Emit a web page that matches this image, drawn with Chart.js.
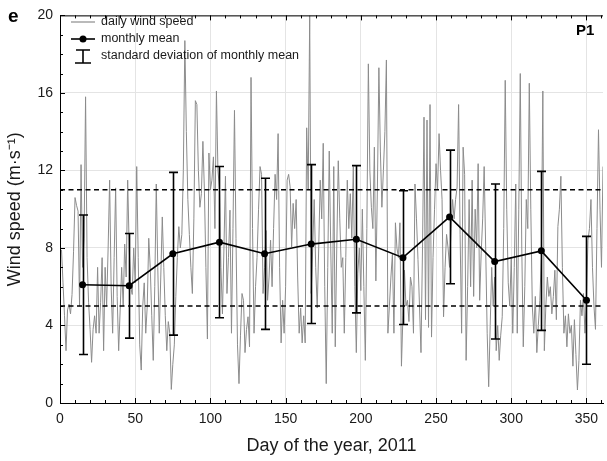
<!DOCTYPE html>
<html>
<head>
<meta charset="utf-8">
<script src="https://cdn.jsdelivr.net/npm/chart.js@4.4.1/dist/chart.umd.min.js"></script>
<style>
  html, body { margin: 0; padding: 0; background: #fff; }
  #wrap { position: relative; width: 607px; height: 461px; }
</style>
</head>
<body>
<div id="wrap"><canvas id="windChart" width="607" height="461"></canvas></div>
<script>
// Daily mean wind speed at P1, 2011 (m/s), starting on day 1
const dailySpeed = [
  7.9, 6.2, 4.5, 2.7, 4.8, 5.1, 4.6, 5.6, 7.8, 10.6,
  10.2, 9.9, 5.0, 12.3, 7.0, 8.5, 15.8, 7.5, 5.2, 3.8,
  2.1, 3.8, 4.5, 3.6, 7.0, 3.6, 5.2, 7.5, 2.7, 7.0,
  5.0, 8.0, 11.5, 6.0, 3.6, 7.5, 11.1, 5.5, 2.7, 4.8,
  7.0, 5.0, 8.2, 6.5, 11.5, 8.0, 6.0, 5.6, 8.0, 6.2,
  12.2, 7.5, 3.0, 1.7, 5.0, 6.2, 3.6, 5.0, 8.5, 7.0,
  4.5, 2.2, 6.0, 11.3, 7.0, 3.6, 6.5, 9.6, 7.0, 4.5,
  2.7, 4.2, 3.6, 0.7, 2.0, 3.0, 5.5, 7.5, 9.1, 8.0,
  8.7, 12.0, 18.7, 14.0, 10.5, 8.7, 7.0, 5.65, 9.5, 15.6,
  15.4, 12.0, 10.1, 10.8, 13.5, 11.0, 7.0, 3.3, 12.9, 11.0,
  11.5, 12.7, 9.0, 16.1, 12.0, 11.1, 7.0, 4.6, 8.0, 11.7,
  5.65, 7.5, 9.95, 3.6, 9.0, 15.1, 8.5, 3.0, 1.0, 3.5,
  5.65, 5.3, 2.6, 3.8, 4.45, 2.9, 16.8, 9.0, 3.6, 6.0,
  7.5, 10.0, 12.2, 11.8, 5.65, 7.0, 8.9, 5.3, 6.5, 8.4,
  6.0, 9.0, 11.8, 10.5, 13.9, 7.0, 3.1, 5.3, 3.6, 6.0,
  11.5, 11.8, 11.15, 8.05, 10.3, 9.0, 10.5, 6.5, 3.6, 4.9,
  3.1, 4.5, 3.1, 14.2, 11.0, 20.0, 5.65, 8.0, 10.5, 7.0,
  4.9, 8.0, 11.5, 9.5, 13.4, 6.0, 1.0, 7.0, 13.0, 8.0,
  3.6, 12.2, 2.9, 8.0, 12.5, 9.5, 7.0, 7.5, 3.6, 7.5,
  11.5, 9.0, 10.8, 8.5, 12.2, 6.0, 2.6, 6.7, 8.0, 5.8,
  10.0, 6.0, 2.2, 9.0, 17.5, 12.0, 10.1, 9.0, 13.2, 6.3,
  11.0, 17.3, 13.0, 10.1, 12.0, 14.0, 17.7, 3.6, 5.0, 6.5,
  7.7, 3.6, 9.3, 8.0, 7.5, 9.3, 1.9, 4.5, 6.85, 5.0,
  5.3, 4.2, 6.5, 6.0, 3.6, 11.3, 9.5, 7.4, 5.0, 2.6,
  8.0, 14.75, 4.3, 14.6, 3.9, 15.4, 3.4, 7.5, 10.0, 12.35,
  11.0, 13.9, 12.0, 10.5, 4.45, 7.0, 8.7, 8.0, 7.0, 9.0,
  10.5, 9.5, 10.5, 11.15, 15.4, 8.7, 3.6, 13.2, 11.8, 2.2,
  6.0, 10.5, 6.0, 11.5, 5.5, 10.0, 8.0, 12.35, 5.3, 7.7,
  9.5, 12.2, 8.0, 3.6, 0.84, 4.0, 7.0, 5.0, 6.5, 2.7,
  4.0, 2.2, 3.5, 4.45, 9.0, 16.65, 10.0, 6.2, 5.0, 7.5,
  3.6, 7.0, 11.3, 3.6, 10.0, 17.0, 8.0, 2.9, 6.0, 10.5,
  9.0, 16.5, 10.0, 5.0, 3.6, 5.5, 2.6, 4.0, 5.3, 7.5,
  16.1, 2.7, 5.0, 6.5, 5.5, 6.0, 4.6, 5.5, 6.85, 4.3,
  9.1, 10.0, 11.7, 7.0, 3.6, 4.5, 2.9, 4.6, 3.6, 4.0,
  1.9, 4.3, 2.5, 0.67, 2.2, 5.3, 4.5, 5.65, 3.6, 5.5,
  8.4, 9.0, 10.5, 7.0, 5.0, 3.8, 9.0, 14.1, 10.0, 7.0,
  12.2, 14.0
];

// Monthly means and their standard deviations, placed mid-month
const monthDays = [15, 46, 75, 106, 136, 167, 197, 228, 259, 289, 320, 350];
const monthMean = [6.1, 6.05, 7.7, 8.3, 7.7, 8.2, 8.45, 7.5, 9.6, 7.3, 7.85, 5.3];
const monthStd = [3.6, 2.7, 4.2, 3.9, 3.9, 4.1, 3.8, 3.45, 3.45, 4.0, 4.1, 3.3];

const thresholds = [11, 5];
const xTicks = [0, 50, 100, 150, 200, 250, 300, 350];
const yTicks = [0, 4, 8, 12, 16, 20];
const xMax = 361;

const FONT = 'Liberation Sans, Arial, sans-serif';
const TEXT = '#1a1a1a';

// error bars, frame, inward ticks and the legend box
const extras = {
  id: 'extras',
  afterDatasetsDraw(chart) {
    const { ctx, scales: { x, y } } = chart;
    ctx.save();
    ctx.strokeStyle = '#000';
    ctx.lineWidth = 1.6;
    monthDays.forEach((d, i) => {
      const px = Math.round(x.getPixelForValue(d)) + 0.5;
      const top = y.getPixelForValue(monthMean[i] + monthStd[i]);
      const bot = y.getPixelForValue(monthMean[i] - monthStd[i]);
      ctx.beginPath();
      ctx.moveTo(px, top); ctx.lineTo(px, bot);
      ctx.moveTo(px - 4.5, top); ctx.lineTo(px + 4.5, top);
      ctx.moveTo(px - 4.5, bot); ctx.lineTo(px + 4.5, bot);
      ctx.stroke();
    });
    ctx.restore();
  },
  afterDraw(chart) {
    const { ctx, chartArea: a, scales: { x, y } } = chart;
    ctx.save();
    ctx.strokeStyle = '#000';
    ctx.lineWidth = 1;
    // top frame
    ctx.beginPath();
    ctx.moveTo(a.left, a.top + 0.5); ctx.lineTo(a.right, a.top + 0.5);
    ctx.stroke();
    // minor ticks every 10 days, top and bottom
    ctx.beginPath();
    for (let d = 0; d <= xMax; d += 10) {
      const px = Math.round(x.getPixelForValue(d)) + 0.5;
      const len = d % 50 === 0 ? 5 : 3;
      ctx.moveTo(px, a.bottom); ctx.lineTo(px, a.bottom - len);
      ctx.moveTo(px, a.top); ctx.lineTo(px, a.top + len);
    }
    for (let v = 0; v <= 20; v += 1) {
      const py = Math.round(y.getPixelForValue(v)) + 0.5;
      const len = v % 4 === 0 ? 5 : 3;
      ctx.moveTo(a.left, py); ctx.lineTo(a.left + len, py);
    }
    ctx.stroke();

    // legend
    const lx0 = 71, lx1 = 95, tx = 101;
    ctx.font = '12.5px ' + FONT;
    ctx.fillStyle = TEXT;
    ctx.textBaseline = 'middle';
    ctx.strokeStyle = '#8c8c8c';
    ctx.lineWidth = 1.2;
    ctx.beginPath(); ctx.moveTo(lx0, 22); ctx.lineTo(lx1, 22); ctx.stroke();
    ctx.fillText('daily wind speed', tx, 22);
    ctx.strokeStyle = '#000';
    ctx.lineWidth = 1.6;
    ctx.beginPath(); ctx.moveTo(lx0, 39); ctx.lineTo(lx1, 39); ctx.stroke();
    ctx.beginPath(); ctx.arc(83, 39, 3.5, 0, Math.PI * 2); ctx.fillStyle = '#000'; ctx.fill();
    ctx.fillStyle = TEXT;
    ctx.fillText('monthly mean', tx, 39);
    ctx.beginPath();
    ctx.moveTo(83, 50); ctx.lineTo(83, 63);
    ctx.moveTo(76, 50); ctx.lineTo(90, 50);
    ctx.moveTo(75, 63); ctx.lineTo(91, 63);
    ctx.stroke();
    ctx.fillText('standard deviation of monthly mean', tx, 56);

    // panel letter and site name
    ctx.font = 'bold 19px ' + FONT;
    ctx.textBaseline = 'alphabetic';
    ctx.fillStyle = '#000';
    ctx.fillText('e', 8, 22);
    ctx.font = 'bold 15px ' + FONT;
    ctx.fillText('P1', 576, 35);
    ctx.restore();
  }
};

const lineSets = thresholds.map(t => ({
  data: [{ x: 0, y: t }, { x: xMax, y: t }],
  borderColor: '#000',
  borderWidth: 1.5,
  borderDash: [5, 3.5],
  pointRadius: 0,
  order: 1
}));

new Chart(document.getElementById('windChart'), {
  type: 'line',
  data: {
    datasets: [
      {
        label: 'daily wind speed',
        data: dailySpeed.map((v, i) => ({ x: i + 1, y: v })),
        borderColor: '#8c8c8c',
        borderWidth: 1,
        pointRadius: 0,
        order: 3
      },
      ...lineSets,
      {
        label: 'monthly mean',
        data: monthDays.map((d, i) => ({ x: d, y: monthMean[i] })),
        borderColor: '#000',
        borderWidth: 1.6,
        pointRadius: 3.5,
        pointBackgroundColor: '#000',
        pointBorderWidth: 0,
        order: 0
      }
    ]
  },
  options: {
    responsive: false,
    animation: false,
    devicePixelRatio: 1,
    layout: { padding: { top: 15, right: 0, left: 0, bottom: 0 } },
    plugins: { legend: { display: false }, tooltip: { enabled: false } },
    scales: {
      x: {
        type: 'linear',
        min: 0,
        max: xMax,
        afterBuildTicks: s => { s.ticks = xTicks.map(v => ({ value: v })); },
        afterFit: s => { s.height = 58; },
        grid: { color: '#e4e4e4', drawTicks: false },
        border: { color: '#000', width: 1 },
        ticks: { font: { size: 14, family: FONT }, color: TEXT, padding: 8, maxRotation: 0 },
        title: { display: true, text: 'Day of the year, 2011', font: { size: 18, family: FONT }, color: TEXT, padding: { top: 3 } }
      },
      y: {
        min: 0,
        max: 20,
        afterBuildTicks: s => { s.ticks = yTicks.map(v => ({ value: v })); },
        afterFit: s => { s.width = 60; },
        grid: { color: '#e4e4e4', drawTicks: false },
        border: { color: '#000', width: 1 },
        ticks: { font: { size: 14, family: FONT }, color: TEXT, padding: 7 },
        title: { display: true, text: 'Wind speed (m·s⁻¹)', font: { size: 18, family: FONT }, color: TEXT, padding: { bottom: 1 } }
      }
    }
  },
  plugins: [extras]
});
</script>
</body>
</html>
